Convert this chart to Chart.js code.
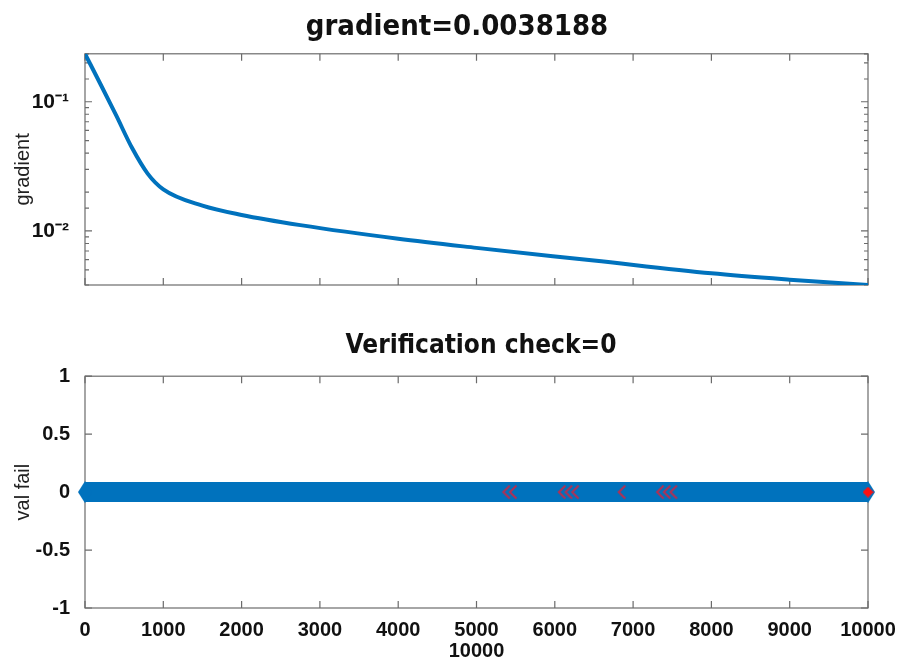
<!DOCTYPE html>
<html>
<head>
<meta charset="utf-8">
<script src="https://cdn.jsdelivr.net/npm/chart.js@4.4.1/dist/chart.umd.min.js"></script>
<style>
  html, body { margin: 0; padding: 0; background: #fff; }
  #wrap { position: relative; width: 899px; height: 661px; overflow: hidden; }
  .box { position: absolute; left: 0; width: 899px; }
</style>
</head>
<body>
<div id="wrap">
  <div class="box" style="top:0;height:310px"><canvas id="gradChart"></canvas></div>
  <div class="box" style="top:310px;height:351px"><canvas id="valChart"></canvas></div>
</div>
<script>
// Data
const gradIters = [0, 200, 400, 600, 800, 1000, 1500, 2000, 2750, 4000, 5000, 6500, 8000, 9000, 10000];
const gradValues = [0.235, 0.136, 0.078, 0.044, 0.0278, 0.021, 0.0157, 0.0133, 0.0111, 0.0087, 0.0074, 0.0059, 0.0047, 0.0042, 0.0038188];
const gradTickLabels = { "0.1": "10\u207B\u00B9", "0.01": "10\u207B\u00B2" };

const valFailIters = [0, 10000];
const valFailValues = [0, 0];
const redMarkIters = [5380, 5465, 6090, 6175, 6260, 6855, 7345, 7430, 7515];
const redMarkValues = [0, 0, 0, 0, 0, 0, 0, 0, 0];
const lastIter = [10000];
const lastValue = [0];

const xTickValues = [0, 1000, 2000, 3000, 4000, 5000, 6000, 7000, 8000, 9000, 10000];

const matBlue = "#0072BD";
const axisGray = "#6b6b6b";
const tickFont = { family: "Liberation Sans, Arial", size: 20, weight: "bold" };
const labelFont = { family: "Liberation Sans, Arial", size: 20 };

// ::::: small marker images :::::
function makeDiamond(w, h, color) {
    const c = document.createElement("canvas");
    c.width = w; c.height = h;
    const g = c.getContext("2d");
    g.fillStyle = color;
    g.beginPath();
    g.moveTo(0, h / 2); g.lineTo(w / 2, 0); g.lineTo(w, h / 2); g.lineTo(w / 2, h);
    g.closePath(); g.fill();
    return c;
}
function makeChevron() {
    const c = document.createElement("canvas");
    c.width = 10; c.height = 16;
    const g = c.getContext("2d");
    g.strokeStyle = "rgba(200, 40, 70, 0.9)";
    g.lineWidth = 2;
    g.beginPath();
    g.moveTo(8.5, 1.5); g.lineTo(2, 8); g.lineTo(8.5, 14.5);
    g.stroke();
    return c;
}
const blueDiamond = makeDiamond(14, 22, matBlue);
const redDiamond = makeDiamond(11, 11, "#ff1010");
const chevron = makeChevron();

// ::::: MATLAB style box with inward ticks :::::
const boxTicks = {
    id: "boxTicks",
    afterLayout(chart, args, opts) {
        // nudge the title sideways like the original figure
        const dx = opts.titleShift || 0;
        if (chart.titleBlock) {
            chart.titleBlock.left += dx;
            chart.titleBlock.right += dx;
        }
    },
    beforeDatasetsDraw(chart) {
        const a = chart.chartArea;
        const ctx = chart.ctx;
        const xs = chart.scales.x;
        const ys = chart.scales.y;
        ctx.save();
        ctx.strokeStyle = axisGray;
        ctx.lineWidth = 1.2;
        ctx.strokeRect(a.left, a.top, a.right - a.left, a.bottom - a.top);
        ctx.beginPath();
        xTickValues.forEach(v => {
            const px = xs.getPixelForValue(v);
            ctx.moveTo(px, a.bottom); ctx.lineTo(px, a.bottom - 7);
            ctx.moveTo(px, a.top); ctx.lineTo(px, a.top + 7);
        });
        ys.ticks.forEach(t => {
            const py = ys.getPixelForValue(t.value);
            if (py < a.top - 0.5 || py > a.bottom + 0.5) return;
            const len = (ys.type === "logarithmic" && !gradTickLabels[String(t.value)]) ? 4 : 7;
            ctx.moveTo(a.left, py); ctx.lineTo(a.left + len, py);
            ctx.moveTo(a.right, py); ctx.lineTo(a.right - len, py);
        });
        ctx.stroke();
        ctx.restore();
    }
};

// ::::: Gradient graph :::::
const gradCtx = document.getElementById("gradChart");
new Chart(gradCtx, {
    type: "line",
    data: {
        datasets: [{
            label: "gradient",
            data: gradIters.map((it, i) => ({ x: it, y: gradValues[i] })),
            borderColor: matBlue,
            borderWidth: 4,
            pointRadius: 0,
            cubicInterpolationMode: "monotone",
            fill: false
        }]
    },
    options: {
        responsive: true,
        maintainAspectRatio: false,
        animation: false,
        layout: { padding: { left: 0, right: 31, top: 0, bottom: 0 } },
        scales: {
            x: {
                type: "linear",
                min: 0,
                max: 10000,
                ticks: { display: false, stepSize: 1000 },
                grid: { display: false },
                border: { display: false },
                afterFit(scale) { scale.height = 25; }
            },
            y: {
                type: "logarithmic",
                min: 0.0038188,
                max: 0.235,
                ticks: {
                    autoSkip: false,
                    color: "#111",
                    font: { family: "Liberation Sans, Arial", size: 21, weight: "bold" },
                    padding: 8,
                    callback: (v) => gradTickLabels[String(v)] || ""
                },
                grid: { display: false },
                border: { display: false },
                title: {
                    display: true,
                    text: "gradient",
                    color: "#222",
                    font: labelFont,
                    padding: { top: 11, bottom: 4 }
                },
                afterFit(scale) { scale.width = 85; }
            }
        },
        plugins: {
            legend: { display: false },
            tooltip: { enabled: false },
            boxTicks: { titleShift: 23 },
            title: {
                display: true,
                text: "gradient=0.0038188",
                color: "#111",
                font: { family: "DejaVu Sans Condensed, DejaVu Sans", size: 29, weight: "bold" },
                padding: { top: 10, bottom: 9 }
            }
        }
    },
    plugins: [boxTicks]
});

// ::::: Validation check graph :::::
const valCtx = document.getElementById("valChart");
new Chart(valCtx, {
    type: "line",
    data: {
        datasets: [{
            label: "val fail",
            data: valFailIters.map((it, i) => ({ x: it, y: valFailValues[i] })),
            borderColor: matBlue,
            borderWidth: 20,
            borderCapStyle: "butt",
            pointStyle: blueDiamond,
            pointRadius: 10,
            fill: false,
            order: 3
        }, {
            label: "marks",
            data: redMarkIters.map((it, i) => ({ x: it, y: redMarkValues[i] })),
            showLine: false,
            pointStyle: chevron,
            pointRadius: 8,
            order: 2
        }, {
            label: "last",
            data: lastIter.map((it, i) => ({ x: it, y: lastValue[i] })),
            showLine: false,
            pointStyle: redDiamond,
            pointRadius: 6,
            order: 1
        }]
    },
    options: {
        responsive: true,
        maintainAspectRatio: false,
        animation: false,
        clip: false,
        layout: { padding: { left: 0, right: 31, top: 0, bottom: 0 } },
        scales: {
            x: {
                type: "linear",
                min: 0,
                max: 10000,
                ticks: {
                    stepSize: 1000, color: "#111", font: tickFont, padding: 2,
                    maxRotation: 0, autoSkip: false,
                    callback: (v) => String(v)
                },
                grid: { display: false },
                border: { display: false },
                title: {
                    display: true,
                    text: "10000",
                    color: "#111",
                    font: tickFont,
                    padding: { top: 0, bottom: -2 }
                },
                afterFit(scale) { scale.height = 53; }
            },
            y: {
                min: -1,
                max: 1,
                ticks: {
                    stepSize: 0.5, color: "#111", font: tickFont, padding: 7,
                    callback: (v) => String(v)
                },
                grid: { display: false },
                border: { display: false },
                title: {
                    display: true,
                    text: "val fail",
                    color: "#222",
                    font: labelFont,
                    padding: { top: 11, bottom: 4 }
                },
                afterFit(scale) { scale.width = 85; }
            }
        },
        plugins: {
            legend: { display: false },
            tooltip: { enabled: false },
            boxTicks: { titleShift: 47 },
            title: {
                display: true,
                text: "Verification check=0",
                color: "#111",
                font: { family: "DejaVu Sans Condensed, DejaVu Sans", size: 26, weight: "bold" },
                padding: { top: 21, bottom: 14 }
            }
        }
    },
    plugins: [boxTicks]
});
</script>
</body>
</html>
